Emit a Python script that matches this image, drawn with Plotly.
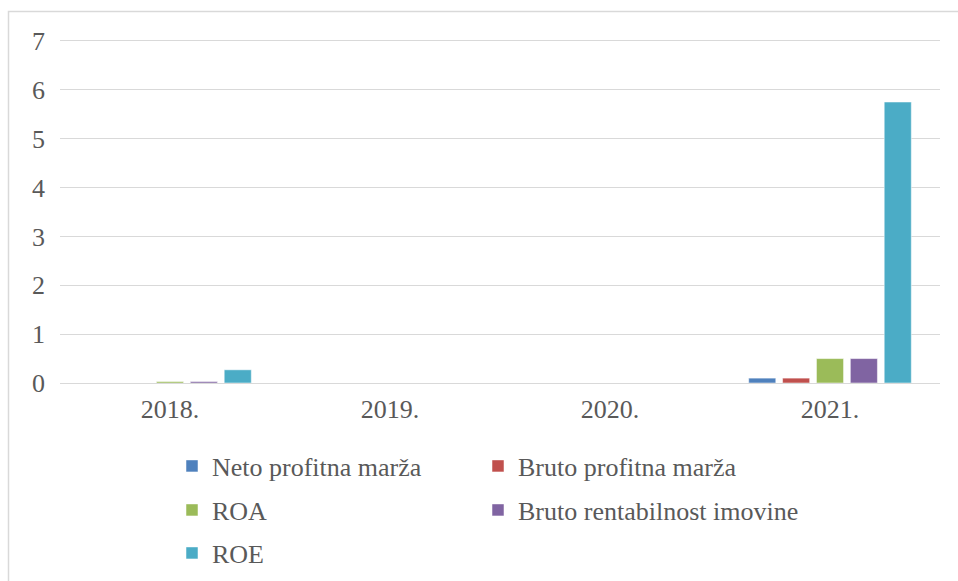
import plotly.graph_objects as go

years = ["2018.", "2019.", "2020.", "2021."]
neto_profitna_marza = [0.0, 0.0, 0.0, 0.10]
bruto_profitna_marza = [0.0, 0.0, 0.0, 0.10]
roa = [0.03, 0.0, 0.0, 0.50]
bruto_rentabilnost = [0.03, 0.0, 0.0, 0.50]
roe = [0.27, 0.0, 0.0, 5.75]

# name, values, colour, legend slot (column, row)
series = [
    ("Neto profitna marža", neto_profitna_marza, "#4F81BD", (0, 0)),
    ("Bruto profitna marža", bruto_profitna_marza, "#C0504D", (1, 0)),
    ("ROA", roa, "#9BBB59", (0, 1)),
    ("Bruto rentabilnost imovine", bruto_rentabilnost, "#8064A2", (1, 1)),
    ("ROE", roe, "#4BACC6", (0, 2)),
]

FONT = "Liberation Serif, DejaVu Serif, serif"
TXT = "#595959"

W, H = 958, 581
Y_MAX = 7.06
BOTTOM_PIX = 383
UNIT = (383 - 41) / 7.0
T = BOTTOM_PIX - Y_MAX * UNIT
L, R, B = 60, 18, H - BOTTOM_PIX
ph = H - T - B


def py(pix):
    return (H - B - pix) / ph


def px(pix):
    return (pix - L) / (W - L - R)


col_x = [172, 478]
row_y = [466, 510, 553]

fig = go.Figure()
layout_legends = {}
for i, (name, vals, color, (c, r)) in enumerate(series):
    key = "legend" if i == 0 else f"legend{i + 1}"
    fig.add_trace(go.Bar(
        x=years, y=vals, name=name, legend=key,
        marker=dict(color=color, line=dict(color="rgba(255,255,255,0.5)", width=1)),
    ))
    layout_legends[key] = dict(
        orientation="h", xanchor="left", yanchor="middle",
        x=px(col_x[c]), y=py(row_y[r]),
        font=dict(family=FONT, size=26, color=TXT),
        bgcolor="rgba(0,0,0,0)", itemwidth=30,
    )

fig.update_layout(
    width=W, height=H,
    margin=dict(l=L, r=R, t=T, b=B, autoexpand=False),
    paper_bgcolor="white", plot_bgcolor="white",
    barmode="group", bargap=0.23, bargroupgap=0.2,
    font=dict(family=FONT, size=26, color=TXT),
    showlegend=True,
    xaxis=dict(
        showgrid=False, showline=False, ticks="", zeroline=False,
        tickfont=dict(family=FONT, size=26, color=TXT),
        ticklabelstandoff=8,
    ),
    yaxis=dict(
        range=[0, Y_MAX], dtick=1, tick0=0,
        showgrid=True, gridcolor="#d9d9d9", gridwidth=1,
        zeroline=True, zerolinecolor="#d9d9d9", zerolinewidth=1,
        showline=False, ticks="",
        tickfont=dict(family=FONT, size=26, color=TXT),
        ticklabelstandoff=14,
    ),
    shapes=[dict(
        type="rect", xref="paper", yref="paper", layer="below",
        x0=px(8.5), x1=px(990), y0=py(620), y1=py(11.5),
        line=dict(color="#d9d9d9", width=1.5), fillcolor="rgba(0,0,0,0)",
    )],
    **layout_legends,
)

fig.write_html("out.html")
